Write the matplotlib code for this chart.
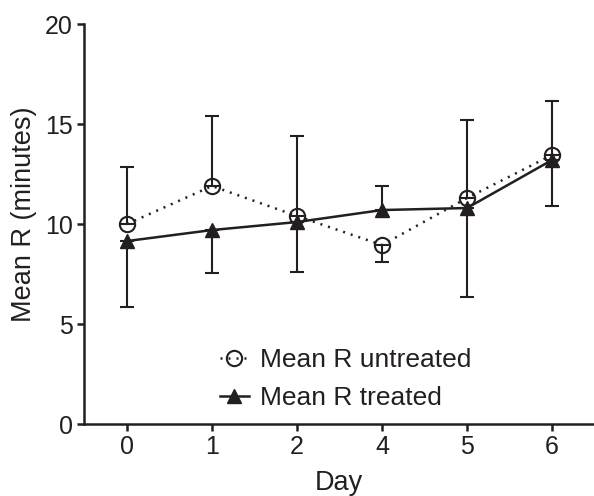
import matplotlib
matplotlib.use("Agg")
import matplotlib.pyplot as plt
import numpy as np

plt.rcParams['font.family'] = ['Liberation Sans', 'DejaVu Sans']

days = ["0", "1", "2", "4", "5", "6"]
untreated = [10.0, 11.9, 10.4, 8.95, 11.3, 13.45]
treated = [9.15, 9.7, 10.1, 10.7, 10.8, 13.2]
untreated_err = [2.85, 3.5, 4.0, 0.85, 3.9, 2.7]
treated_err = [3.3, 2.15, 2.5, 1.2, 4.45, 2.3]
# direction of the one-sided error bar: 1 = upward, -1 = downward
untreated_dir = [1, 1, 1, -1, 1, 1]
treated_dir = [-1, -1, -1, 1, -1, -1]

x = np.arange(len(days))

fig = plt.figure(figsize=(5.94, 4.96), dpi=100)
ax = fig.add_axes([0.1414, 0.145, 0.8586, 0.8066])

def one_sided(err, d):
    err = np.array(err); d = np.array(d)
    lower = np.where(d < 0, err, 0)
    upper = np.where(d > 0, err, 0)
    return [lower, upper]

c = '#231f20'
ax.errorbar(x, untreated, yerr=one_sided(untreated_err, untreated_dir), fmt='none',
            ecolor=c, elinewidth=1.5, capsize=5.3, capthick=1.5, zorder=2)
ax.errorbar(x, treated, yerr=one_sided(treated_err, treated_dir), fmt='none',
            ecolor=c, elinewidth=1.5, capsize=5.3, capthick=1.5, zorder=2)

ax.plot(x, untreated, linestyle=(0, (0.8, 2.4)), lw=1.8, color=c, marker='o', ms=11,
        mfc='none', mec=c, mew=1.5, label='Mean R untreated', zorder=3)
ax.plot(x, treated, linestyle='-', lw=1.8, color=c, marker='^', ms=10,
        mfc=c, mec=c, label='Mean R treated', zorder=4)

ax.set_xlim(-0.506, 5.494)
ax.set_ylim(0, 20)
ax.set_xticks(x)
ax.set_xticklabels(days)
ax.set_yticks([0, 5, 10, 15, 20])
ax.spines['top'].set_visible(False)
ax.spines['right'].set_visible(False)
for s in ['left', 'bottom']:
    ax.spines[s].set_linewidth(1.8)
    ax.spines[s].set_color(c)
ax.tick_params(axis='both', direction='out', length=5, width=1.8, color=c,
               labelsize=18, labelcolor=c, pad=3)
ax.set_xlabel('Day', fontsize=19.5, color=c, labelpad=8)
ax.set_ylabel('Mean R (minutes)', fontsize=19.5, color=c, labelpad=6)
ax.yaxis.label.set_y(0.525)

leg = ax.legend(loc='lower left', bbox_to_anchor=(0.22, -0.025), frameon=False,
                fontsize=19, handlelength=1.1, handletextpad=0.4, labelspacing=0.53,
                labelcolor=c)

fig.savefig('out.png', dpi=100)
